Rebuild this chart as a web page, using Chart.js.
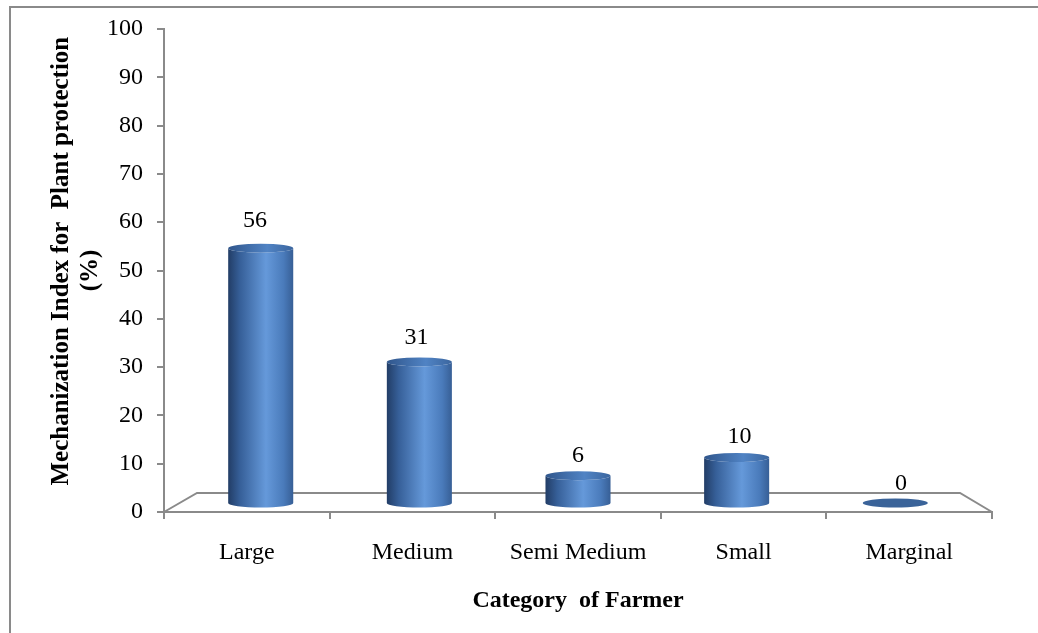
<!DOCTYPE html>
<html><head><meta charset="utf-8">
<script src="https://cdn.jsdelivr.net/npm/chart.js@4.4.1/dist/chart.umd.min.js"></script>
<style>html,body{margin:0;padding:0;background:#fff}canvas{display:block}</style>
</head><body>
<canvas id="c" width="1038" height="633"></canvas>
<script>
const categories = ['Large', 'Medium', 'Semi Medium', 'Small', 'Marginal'];
const values = [56, 31, 6, 10, 0];
const yMin = 0, yMax = 100, yStep = 10;
const xTitle = 'Category  of Farmer';
const yTitle = ['   Mechanization Index for  Plant protection', '(%)'];

const AXIS = '#8a8a8a';
const FONT = '"Liberation Serif", "Times New Roman", serif';

function cylinder(ctx, cx, top, base, w, ry) {
  const l = cx - w / 2, r = cx + w / 2;
  if (base - top > 0.5) {
    const g = ctx.createLinearGradient(l, 0, r, 0);
    g.addColorStop(0, '#223d66');
    g.addColorStop(0.18, '#365f98');
    g.addColorStop(0.58, '#6599da');
    g.addColorStop(0.85, '#4a7bbb');
    g.addColorStop(1, '#375f96');
    ctx.beginPath();
    ctx.moveTo(l, top);
    ctx.lineTo(l, base);
    ctx.ellipse(cx, base, w / 2, ry, 0, Math.PI, 0, true);
    ctx.lineTo(r, top);
    ctx.ellipse(cx, top, w / 2, ry, 0, 0, Math.PI, false);
    ctx.closePath();
    ctx.fillStyle = g;
    ctx.fill();
    const gt = ctx.createLinearGradient(l, 0, r, 0);
    gt.addColorStop(0, '#30568c');
    gt.addColorStop(0.6, '#5083c4');
    gt.addColorStop(1, '#3b669f');
    ctx.beginPath();
    ctx.ellipse(cx, top, w / 2, ry, 0, 0, Math.PI * 2);
    ctx.fillStyle = gt;
    ctx.fill();
  } else {
    ctx.beginPath();
    ctx.ellipse(cx, base, w / 2, ry, 0, 0, Math.PI * 2);
    ctx.fillStyle = '#3a6399';
    ctx.fill();
  }
}

const cylPlugin = {
  id: 'cyl',
  beforeDraw(chart) {
    const ctx = chart.ctx;
    ctx.save();
    ctx.fillStyle = '#fff';
    ctx.fillRect(0, 0, chart.width, chart.height);
    ctx.strokeStyle = AXIS;
    ctx.lineWidth = 2;
    ctx.beginPath();
    ctx.moveTo(10, 633); ctx.lineTo(10, 7); ctx.lineTo(1038, 7);
    ctx.stroke();
    ctx.restore();
  },
  beforeDatasetsDraw(chart) {
    const ctx = chart.ctx, a = chart.chartArea;
    ctx.save();
    ctx.strokeStyle = AXIS;
    ctx.lineWidth = 2;
    ctx.beginPath();
    ctx.moveTo(a.left, a.bottom);
    ctx.lineTo(a.left + 33, a.bottom - 19);
    ctx.lineTo(a.right - 32, a.bottom - 19);
    ctx.lineTo(a.right, a.bottom);
    ctx.stroke();
    ctx.restore();
  },
  afterDatasetsDraw(chart) {
    const ctx = chart.ctx, a = chart.chartArea;
    const mid = (a.left + a.right) / 2;
    const kBar = 0.958, kLab = 0.975;
    const meta = chart.getDatasetMeta(0);
    ctx.save();
    meta.data.forEach((el, i) => {
      const cx = mid + (el.x - mid) * kBar;
      const w = el.width * kBar;
      cylinder(ctx, cx, el.y, el.base, w, 4.5);
      const h = el.base - el.y;
      ctx.fillStyle = '#000';
      ctx.font = '24px ' + FONT;
      ctx.textAlign = 'center';
      ctx.textBaseline = 'alphabetic';
      ctx.fillText(String(values[i]), mid + (el.x - mid) * kLab, el.base - 13 - h * 1.033);
    });
    ctx.restore();
  }
};

new Chart(document.getElementById('c'), {
  type: 'bar',
  data: {
    labels: categories,
    datasets: [{
      data: values,
      yAxisID: 'y2',
      backgroundColor: 'rgba(0,0,0,0)',
      borderWidth: 0,
      barPercentage: 0.41,
      categoryPercentage: 1
    }]
  },
  options: {
    responsive: false,
    animation: false,
    events: [],
    layout: { padding: { left: 30, right: 46, top: 29, bottom: 18 } },
    plugins: { legend: { display: false }, tooltip: { enabled: false } },
    scales: {
      x: {
        grid: { drawOnChartArea: false, offset: true, color: AXIS, lineWidth: 2, tickLength: 7 },
        border: { color: AXIS, width: 2 },
        ticks: { color: '#000', font: { family: FONT, size: 24 }, padding: 19, maxRotation: 0 },
        title: { display: true, text: xTitle, color: '#000', font: { family: FONT, size: 24, weight: 'bold' }, padding: { top: 0, bottom: 0 } },
        afterFit(s) { s.height = 633 - 512 - 18; }
      },
      y: {
        min: yMin, max: yMax,
        grid: { drawOnChartArea: false, color: AXIS, lineWidth: 2, tickLength: 7 },
        border: { color: AXIS, width: 2 },
        ticks: { stepSize: yStep, color: '#000', font: { family: FONT, size: 24 }, padding: 14 },
        title: { display: true, text: yTitle, color: '#000', font: { family: FONT, size: 25, weight: 'bold', lineHeight: 1.15 }, padding: { top: 17, bottom: 0 } },
        afterFit(s) { s.width = 164 - 30; }
      },
      y2: {
        display: false,
        min: -1.978, max: 104.17
      }
    }
  },
  plugins: [cylPlugin]
});
</script>
</body></html>
